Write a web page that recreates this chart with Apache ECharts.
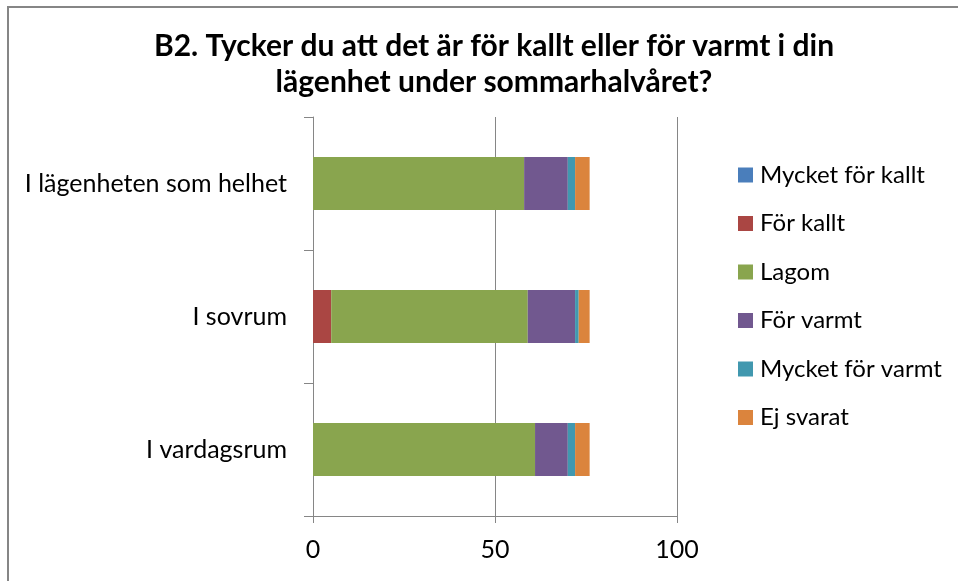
<!DOCTYPE html>
<html>
<head>
<meta charset="utf-8">
<script src="https://cdn.jsdelivr.net/npm/echarts@6/dist/echarts.min.js"></script>
<style>html,body{margin:0;padding:0;background:#fff;}#c{width:958px;height:581px;}</style>
</head>
<body>
<div id="c"></div>
<script>
const categories = ['I lägenheten som helhet', 'I sovrum', 'I vardagsrum'];
const seriesNames = ['Mycket för kallt', 'För kallt', 'Lagom', 'För varmt', 'Mycket för varmt', 'Ej svarat'];
const mycketForKallt = [0, 0, 0];
const forKallt = [0, 5, 0];
const lagom = [58, 54, 61];
const forVarmt = [12, 13, 9];
const mycketForVarmt = [2, 1, 2];
const ejSvarat = [4, 3, 4];
const xTicks = [0, 50, 100];
const colors = ['#4A7EBB', '#AA4643', '#89A54E', '#71588F', '#4198AF', '#DB843D'];

const values = [mycketForKallt, forKallt, lagom, forVarmt, mycketForVarmt, ejSvarat];
const font = 'Lato, "Open Sans", sans-serif';
const chart = echarts.init(document.getElementById('c'));
chart.setOption({
  animation: false,
  backgroundColor: '#fff',
  title: {
    text: 'B2. Tycker du att det är för kallt eller för varmt i din\nlägenhet under sommarhalvåret?',
    left: 489, top: 23, textAlign: 'center',
    textStyle: { fontFamily: font, fontSize: 30, fontWeight: 'bold', color: '#000', lineHeight: 36 }
  },
  graphic: [{
    type: 'rect', shape: { x: 8, y: 7, width: 1000, height: 1000 },
    style: { fill: 'none', stroke: '#868686', lineWidth: 2 }, silent: true
  }],
  legend: {
    orient: 'vertical', left: 733, top: 158,
    itemWidth: 15, itemHeight: 15, itemGap: 24.5, icon: 'rect',
    textStyle: { fontFamily: font, fontSize: 24, color: '#000', padding: [0, 0, 0, 2] },
    data: seriesNames
  },
  grid: { left: 313, right: 281, top: 117, bottom: 65, containLabel: false },
  xAxis: {
    type: 'value', min: xTicks[0], max: xTicks[xTicks.length - 1], interval: 50,
    axisLine: { show: true, lineStyle: { color: '#868686', width: 1 } },
    axisTick: { show: true, length: 7, lineStyle: { color: '#868686' } },
    splitLine: { show: true, lineStyle: { color: '#868686', width: 1 } },
    axisLabel: { fontFamily: font, fontSize: 25, color: '#000', margin: 21 }
  },
  yAxis: {
    type: 'category', data: categories, inverse: true,
    axisLine: { show: true, lineStyle: { color: '#868686', width: 1 } },
    axisTick: { show: true, length: 9, alignWithLabel: false, lineStyle: { color: '#868686' } },
    axisLabel: { fontFamily: font, fontSize: 25, color: '#000', margin: 26 }
  },
  series: seriesNames.map((n, i) => ({
    name: n, type: 'bar', stack: 'total', data: values[i], barWidth: 53,
    itemStyle: { color: colors[i] }
  }))
});
</script>
</body>
</html>
